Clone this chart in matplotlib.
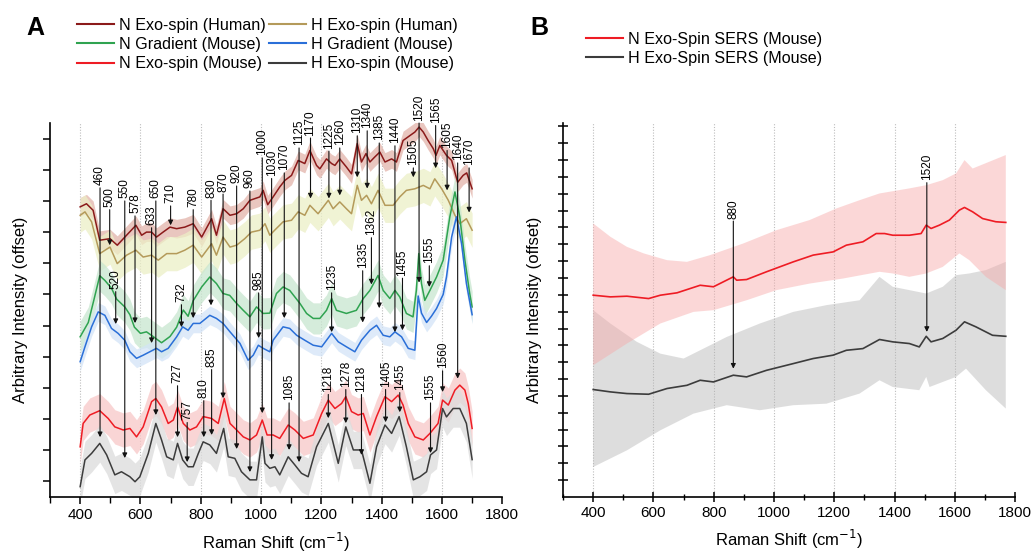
import numpy as np
import matplotlib
matplotlib.use("Agg")
import matplotlib.pyplot as plt
from matplotlib.lines import Line2D

plt.rcParams['font.family'] = ['Liberation Sans', 'DejaVu Sans']

# ---------------- Panel A spectra (Raman shift, offset intensity) ----------------
n_exo_human_x = [400, 421, 443, 465, 499, 523, 554, 585, 604, 620,
                 637, 653, 675, 698, 720, 747, 775, 803, 836, 852,
                 874, 897, 919, 941, 963, 996, 1007, 1022, 1040, 1062,
                 1079, 1101, 1123, 1145, 1162, 1184, 1195, 1217, 1234, 1245,
                 1261, 1283, 1300, 1319, 1333, 1348, 1361, 1377, 1394, 1411,
                 1433, 1449, 1471, 1494, 1510, 1524, 1538, 1554, 1571, 1580,
                 1593, 1615, 1632, 1652, 1670, 1682, 1700]
n_exo_human_y = [9.31, 9.41, 9.20, 8.24, 8.29, 8.08, 8.40, 8.72, 8.40, 8.50,
                 8.50, 8.34, 8.50, 8.66, 8.61, 8.66, 8.77, 8.34, 8.93, 8.40,
                 9.25, 9.04, 9.09, 9.25, 9.52, 9.63, 9.84, 9.38, 9.63, 9.95,
                 10.16, 10.32, 10.80, 10.70, 11.12, 10.64, 10.53, 10.85, 10.70, 10.64,
                 10.85, 10.59, 10.37, 11.34, 10.75, 11.02, 10.75, 10.91, 11.07, 10.75,
                 10.85, 10.75, 11.44, 11.60, 11.71, 11.87, 11.71, 11.44, 11.18, 10.96,
                 11.28, 10.96, 10.80, 10.10, 10.32, 10.40, 9.89]

h_exo_human_x = [400, 416, 438, 465, 499, 523, 554, 585, 609, 637,
                 659, 687, 720, 747, 775, 803, 836, 852, 874, 897,
                 919, 946, 968, 996, 1013, 1029, 1045, 1073, 1101, 1123,
                 1145, 1162, 1189, 1223, 1239, 1261, 1283, 1300, 1319, 1333,
                 1350, 1366, 1388, 1411, 1438, 1460, 1482, 1510, 1538, 1560,
                 1576, 1599, 1621, 1643, 1659, 1681, 1700]
h_exo_human_y = [9.04, 9.15, 8.83, 7.81, 8.02, 7.49, 7.76, 7.92, 7.70, 7.76,
                 7.60, 7.81, 7.81, 7.92, 8.08, 7.70, 8.13, 7.76, 8.34, 8.02,
                 8.08, 8.29, 8.50, 8.56, 8.77, 8.40, 8.56, 8.83, 8.88, 9.15,
                 9.04, 9.36, 9.09, 9.52, 9.25, 9.47, 9.25, 9.09, 10.00, 9.52,
                 9.68, 9.41, 9.84, 9.36, 9.36, 9.63, 9.84, 9.89, 10.00, 9.89,
                 10.21, 9.89, 9.52, 9.04, 8.77, 8.93, 8.56]

n_grad_mouse_x = [400, 427, 445, 465, 482, 504, 521, 548, 565, 580,
                  600, 620, 642, 670, 698, 720, 742, 758, 775, 803,
                  830, 852, 874, 896, 919, 941, 963, 985, 1007, 1029,
                  1051, 1073, 1095, 1112, 1129, 1151, 1173, 1195, 1217, 1234,
                  1250, 1283, 1316, 1339, 1361, 1388, 1405, 1427, 1444, 1460,
                  1482, 1504, 1515, 1523, 1532, 1543, 1560, 1582, 1604, 1626,
                  1643, 1659, 1676, 1692, 1700]
n_grad_mouse_y = [5.14, 5.60, 6.30, 7.10, 6.95, 6.70, 6.35, 6.10, 5.85, 5.45,
                  5.25, 5.30, 5.15, 4.95, 5.15, 5.45, 6.00, 5.80, 6.30, 6.74,
                  7.06, 6.85, 6.53, 6.47, 6.21, 5.99, 5.78, 6.10, 5.89, 5.90,
                  6.53, 6.74, 6.63, 6.42, 6.21, 5.89, 5.73, 5.73, 5.99, 6.37,
                  5.99, 5.89, 5.99, 6.37, 6.63, 7.11, 6.63, 6.37, 6.63, 6.42,
                  5.89, 5.78, 6.63, 7.81, 6.85, 6.31, 6.63, 7.06, 7.60, 8.99,
                  9.79, 8.99, 7.60, 6.53, 6.10]

h_grad_mouse_x = [400, 416, 438, 460, 482, 504, 526, 548, 565, 587,
                  609, 631, 653, 670, 692, 720, 740, 758, 775, 797,
                  830, 852, 874, 897, 930, 957, 974, 991, 1007, 1029,
                  1040, 1073, 1095, 1118, 1145, 1173, 1201, 1234, 1256, 1283,
                  1311, 1333, 1361, 1383, 1405, 1427, 1444, 1466, 1488, 1510,
                  1521, 1532, 1549, 1565, 1582, 1604, 1615, 1632, 1648, 1665,
                  1681, 1700]
h_grad_mouse_y = [4.34, 4.82, 5.46, 5.94, 5.83, 5.41, 5.25, 5.03, 4.66, 4.45,
                  4.55, 4.66, 4.77, 4.66, 4.77, 5.14, 5.46, 5.35, 5.57, 5.57,
                  5.83, 5.73, 5.57, 5.30, 4.93, 4.39, 4.55, 4.87, 4.77, 4.66,
                  5.03, 5.46, 5.41, 5.19, 5.03, 4.87, 4.82, 5.25, 4.98, 4.82,
                  4.66, 5.03, 5.35, 5.51, 5.19, 5.14, 5.30, 5.14, 4.77, 4.71,
                  6.45, 5.90, 5.60, 5.80, 6.05, 6.50, 7.06, 8.34, 8.99, 8.13,
                  6.85, 5.85]

n_exo_mouse_x = [400, 410, 432, 465, 493, 515, 543, 565, 587, 609,
                 637, 651, 670, 692, 709, 723, 742, 764, 786, 808,
                 836, 858, 878, 897, 919, 941, 963, 985, 1004, 1020,
                 1040, 1062, 1090, 1112, 1140, 1173, 1201, 1223, 1245, 1267,
                 1281, 1300, 1322, 1339, 1361, 1383, 1411, 1433, 1455, 1471,
                 1488, 1510, 1538, 1560, 1587, 1602, 1621, 1643, 1659, 1676,
                 1687, 1700]
n_exo_mouse_y = [1.61, 2.36, 2.63, 2.77, 2.52, 2.25, 2.15, 2.20, 1.93, 2.25,
                 3.06, 3.16, 2.89, 2.36, 2.47, 2.89, 2.36, 2.15, 2.25, 2.58,
                 2.52, 2.36, 3.16, 2.36, 2.15, 1.93, 1.83, 1.99, 2.47, 1.99,
                 1.99, 1.88, 2.31, 2.15, 1.88, 1.99, 2.68, 3.11, 2.84, 3.00,
                 3.22, 2.74, 2.63, 2.68, 1.99, 2.58, 3.22, 3.06, 3.27, 2.95,
                 2.36, 1.93, 1.83, 2.04, 2.36, 3.11, 2.95, 3.43, 3.59, 3.43,
                 3.00, 2.20]

h_exo_mouse_x = [400, 416, 438, 465, 488, 515, 537, 565, 582, 598,
                 626, 651, 670, 687, 709, 723, 740, 758, 775, 792,
                 808, 830, 852, 876, 891, 913, 935, 963, 985, 1004,
                 1013, 1029, 1046, 1062, 1090, 1112, 1134, 1156, 1184, 1223,
                 1256, 1281, 1306, 1333, 1361, 1383, 1411, 1433, 1458, 1482,
                 1505, 1527, 1549, 1562, 1582, 1602, 1615, 1637, 1659, 1681,
                 1700]
h_exo_mouse_y = [0.33, 1.19, 1.40, 1.72, 1.35, 0.71, 0.81, 0.65, 0.49, 0.65,
                 1.40, 2.36, 1.83, 1.29, 1.19, 1.72, 1.19, 0.97, 0.97, 1.40,
                 1.77, 1.67, 1.40, 2.20, 1.29, 1.24, 0.81, 0.55, 0.55, 1.93,
                 1.08, 0.92, 0.97, 0.71, 1.29, 1.03, 0.76, 0.65, 1.61, 2.36,
                 1.08, 2.25, 1.51, 1.51, 0.44, 1.61, 2.31, 2.04, 2.58, 1.61,
                 0.55, 0.65, 0.81, 1.35, 1.51, 2.84, 2.57, 2.84, 2.84, 2.36,
                 1.20]

# standard deviation half-widths of the shaded bands (panel A)
band_sd_a = [0.30, 0.55, 0.50, 0.30, 0.55, 0.60]

# peak assignments in panel A: position, label, label base, arrow tip
peak_a_pos = [466, 498, 548, 582, 637, 651, 700, 775, 834, 874,
              919, 963, 1004, 1035, 992, 518, 736, 1077, 1126, 1164,
              1225, 1261, 1319, 1352, 1392, 1444, 1505, 1524, 1579, 1617,
              1652, 1690, 1234, 1337, 1366, 1469, 1558, 723, 755, 810,
              836, 1093, 1223, 1281, 1333, 1413, 1460, 1562, 1602]
peak_a_text = ['460', '500', '550', '578', '633', '650', '710', '780', '830', '870',
               '920', '960', '1000', '1030', '985', '520', '732', '1070', '1125', '1170',
               '1225', '1260', '1310', '1340', '1385', '1440', '1505', '1520', '1565', '1605',
               '1640', '1670', '1235', '1335', '1362', '1455', '1555', '727', '757', '810',
               '835', '1085', '1218', '1278', '1218', '1405', '1455', '1555', '1560']
peak_a_label = [10.00, 9.30, 9.58, 9.10, 8.72, 9.58, 9.42, 9.30, 9.60, 9.80,
                10.06, 9.90, 10.96, 10.30, 6.63, 6.67, 6.25, 10.48, 11.28, 11.60,
                11.18, 11.28, 11.67, 11.83, 11.44, 11.35, 10.64, 12.08, 12.00, 11.20,
                10.80, 10.64, 6.63, 7.34, 8.40, 7.10, 7.50, 3.65, 2.47, 3.17,
                4.17, 3.10, 3.37, 3.53, 3.37, 3.53, 3.43, 3.10, 4.13]
peak_a_tip = [1.92, 8.08, 1.25, 5.58, 4.94, 2.63, 8.72, 5.74, 6.15, 3.17,
              1.54, 0.80, 2.69, 1.19, 5.10, 5.55, 5.45, 5.74, 1.12, 9.58,
              9.58, 9.68, 10.26, 9.90, 6.06, 5.29, 10.26, 6.88, 10.55, 9.84,
              3.80, 9.13, 5.29, 5.60, 6.82, 5.35, 6.74, 1.92, 1.12, 1.92,
              1.99, 1.51, 2.53, 2.37, 1.35, 2.40, 2.72, 1.41, 3.37]

# ---------------- Panel B: SERS spectra ----------------
n_sers_x = [400, 457, 512, 584, 623, 678, 755, 799, 865, 876,
            909, 975, 1064, 1130, 1196, 1240, 1295, 1339, 1367, 1394,
            1449, 1488, 1505, 1521, 1549, 1582, 1615, 1632, 1659, 1692,
            1736, 1769]
n_sers_y = [11.98, 11.88, 11.92, 11.78, 11.98, 12.12, 12.57, 12.48, 13.07, 12.87,
            12.91, 13.37, 13.96, 14.36, 14.55, 14.95, 15.15, 15.64, 15.64, 15.54,
            15.54, 15.64, 16.14, 15.94, 16.14, 16.44, 17.03, 17.19, 16.93, 16.53,
            16.34, 16.30]
n_sers_up_x = [400, 457, 512, 568, 645, 711, 788, 898, 1008, 1118,
               1207, 1284, 1350, 1449, 1505, 1560, 1604, 1632, 1659, 1769]
n_sers_up_y = [16.24, 15.45, 14.85, 14.46, 14.06, 13.96, 14.36, 15.05, 15.84, 16.44,
               17.13, 17.62, 18.02, 18.32, 18.51, 18.81, 19.21, 20.00, 19.50, 20.30]
n_sers_lo_x = [400, 512, 623, 733, 799, 909, 1008, 1118, 1229, 1350,
               1394, 1449, 1505, 1560, 1615, 1648, 1703, 1769]
n_sers_lo_y = [7.82, 9.11, 10.30, 10.99, 11.09, 11.68, 12.28, 12.67, 12.97, 13.37,
               13.27, 13.07, 13.27, 13.66, 14.46, 14.06, 13.07, 12.28]

h_sers_x = [400, 457, 512, 584, 645, 711, 755, 799, 865, 909,
            975, 1064, 1130, 1196, 1240, 1295, 1350, 1394, 1449, 1482,
            1505, 1521, 1560, 1604, 1632, 1670, 1725, 1769]
h_sers_y = [6.38, 6.24, 6.14, 6.10, 6.44, 6.63, 6.93, 6.83, 7.23, 7.13,
            7.52, 7.92, 8.22, 8.42, 8.71, 8.81, 9.35, 9.21, 9.11, 8.91,
            9.54, 9.21, 9.41, 9.90, 10.40, 10.10, 9.60, 9.54]
h_sers_up_x = [400, 457, 545, 623, 700, 755, 843, 953, 1064, 1174,
               1284, 1350, 1394, 1505, 1560, 1604, 1648, 1703, 1769]
h_sers_up_y = [11.09, 10.30, 9.21, 8.51, 8.22, 8.71, 9.50, 10.30, 10.99, 11.39,
               11.68, 13.07, 12.48, 12.08, 12.48, 13.17, 13.27, 13.47, 13.96]
h_sers_lo_x = [400, 512, 623, 733, 843, 953, 1064, 1174, 1284, 1350,
               1394, 1482, 1505, 1516, 1604, 1637, 1703, 1769]
h_sers_lo_y = [1.78, 2.77, 3.96, 4.95, 5.45, 5.15, 5.45, 5.54, 6.14, 6.93,
               6.53, 6.34, 7.13, 6.53, 7.13, 7.62, 6.34, 5.25]

peak_b_pos = [865, 1507]
peak_b_text = ['880', '1520']
peak_b_label = [16.53, 18.81]
peak_b_tip = [7.62, 9.80]

# ---------------- figure ----------------
fig = plt.figure(figsize=(10.35, 5.54), dpi=100)
axA = fig.add_axes([0.0483, 0.1029, 0.437, 0.675])
axB = fig.add_axes([0.544, 0.1029, 0.4368, 0.675])

series_a = [
    ('N Exo-spin (Human)', n_exo_human_x, n_exo_human_y, '#8b1a1a', '#e2b3aa'),
    ('H Exo-spin (Human)', h_exo_human_x, h_exo_human_y, '#b49a5a', '#ecefc6'),
    ('N Gradient (Mouse)', n_grad_mouse_x, n_grad_mouse_y, '#2fa350', '#c8e6cf'),
    ('H Gradient (Mouse)', h_grad_mouse_x, h_grad_mouse_y, '#2a6fd8', '#d3e4f7'),
    ('N Exo-spin (Mouse)', n_exo_mouse_x, n_exo_mouse_y, '#ee1c24', '#f8c8c8'),
    ('H Exo-spin (Mouse)', h_exo_mouse_x, h_exo_mouse_y, '#3c3c3c', '#dcdcdc'),
]

for (name, x, y, c, fc), sd in zip(series_a, band_sd_a):
    x = np.array(x); y = np.array(y)
    axA.fill_between(x, y - sd, y + sd, color=fc, alpha=0.75, lw=0, zorder=1)
for name, x, y, c, fc in series_a:
    axA.plot(x, y, color=c, lw=1.1, zorder=3)

for p, t, ly, tip in zip(peak_a_pos, peak_a_text, peak_a_label, peak_a_tip):
    axA.text(p, ly, t, rotation=90, ha='center', va='bottom', fontsize=8.5, zorder=5)
    axA.annotate('', xy=(p, tip), xytext=(p, ly - 0.08),
                 arrowprops=dict(arrowstyle='-|>', color='#111111', lw=0.8,
                                 mutation_scale=7, shrinkA=0, shrinkB=0),
                 zorder=4)

# panel B
axB.fill(np.r_[h_sers_up_x, h_sers_lo_x[::-1]], np.r_[h_sers_up_y, h_sers_lo_y[::-1]],
         color='#b0b0b0', alpha=0.42, lw=0, zorder=1)
axB.fill(np.r_[n_sers_up_x, n_sers_lo_x[::-1]], np.r_[n_sers_up_y, n_sers_lo_y[::-1]],
         color='#f7a8a8', alpha=0.45, lw=0, zorder=1)
axB.plot(n_sers_x, n_sers_y, color='#ee1c24', lw=1.2, zorder=3)
axB.plot(h_sers_x, h_sers_y, color='#3c3c3c', lw=1.2, zorder=3)
for p, t, ly, tip in zip(peak_b_pos, peak_b_text, peak_b_label, peak_b_tip):
    axB.text(p, ly, t, rotation=90, ha='center', va='bottom', fontsize=8.5, zorder=5)
    axB.annotate('', xy=(p, tip), xytext=(p, ly - 0.15),
                 arrowprops=dict(arrowstyle='-|>', color='#111111', lw=0.8,
                                 mutation_scale=7, shrinkA=0, shrinkB=0),
                 zorder=4)

# axes styling
for ax in (axA, axB):
    ax.set_xlim(300, 1800)
    ax.set_xticks(range(400, 1801, 200))
    ax.set_xticks(range(300, 1801, 100), minor=True)
    ax.spines['top'].set_visible(False)
    ax.spines['right'].set_visible(False)
    for s in ('left', 'bottom'):
        ax.spines[s].set_linewidth(1.2)
    for g in range(400, 1601, 200):
        ax.axvline(g, color='#bdbdbd', lw=0.8, ls=(0, (1, 1.5)), zorder=0)
    ax.tick_params(axis='x', labelsize=11, pad=3)
    ax.set_xlabel('Raman Shift (cm$^{-1}$)', fontsize=12, labelpad=6)

axA.set_ylim(0, 12)
axA.set_yticks(np.arange(0.5, 12, 1))
axA.tick_params(axis='both', which='major', direction='out', length=5, width=1.1)
axA.tick_params(axis='x', which='minor', direction='out', length=4, width=1.0)
axA.set_yticklabels([])
axA.set_ylabel('Arbitrary Intensity (offset)', fontsize=12, labelpad=7)

axB.set_ylim(0, 22.2)
axB.set_yticks(np.arange(1, 23, 1))
axB.tick_params(axis='both', which='major', direction='inout', length=7, width=1.1)
axB.tick_params(axis='x', which='minor', direction='inout', length=5, width=1.0)
axB.set_yticklabels([])
axB.set_ylabel('Arbitrary Intensity (offset)', fontsize=12, labelpad=8)

# legends
handles_a = [Line2D([], [], color=c, lw=1.5) for _, _, _, c, _ in series_a]
names_a = [s[0] for s in series_a]
order = [0, 2, 4, 1, 3, 5]
fig.legend([handles_a[i] for i in order], [names_a[i] for i in order],
           loc='upper left', bbox_to_anchor=(0.0745, 0.968), ncol=2, frameon=False,
           fontsize=11.6, handlelength=2.3, handletextpad=0.3, columnspacing=0.2,
           labelspacing=0.27, borderpad=0, borderaxespad=0)
fig.legend([Line2D([], [], color='#ee1c24', lw=1.5), Line2D([], [], color='#3c3c3c', lw=1.5)],
           ['N Exo-Spin SERS (Mouse)', 'H Exo-Spin SERS (Mouse)'],
           loc='upper left', bbox_to_anchor=(0.566, 0.943), frameon=False,
           fontsize=11.6, handlelength=2.3, handletextpad=0.3,
           labelspacing=0.27, borderpad=0, borderaxespad=0)

fig.text(0.034, 0.949, 'A', fontsize=18, fontweight='bold', ha='center', va='center')
fig.text(0.521, 0.949, 'B', fontsize=18, fontweight='bold', ha='center', va='center')

fig.savefig('out.png', dpi=100)
